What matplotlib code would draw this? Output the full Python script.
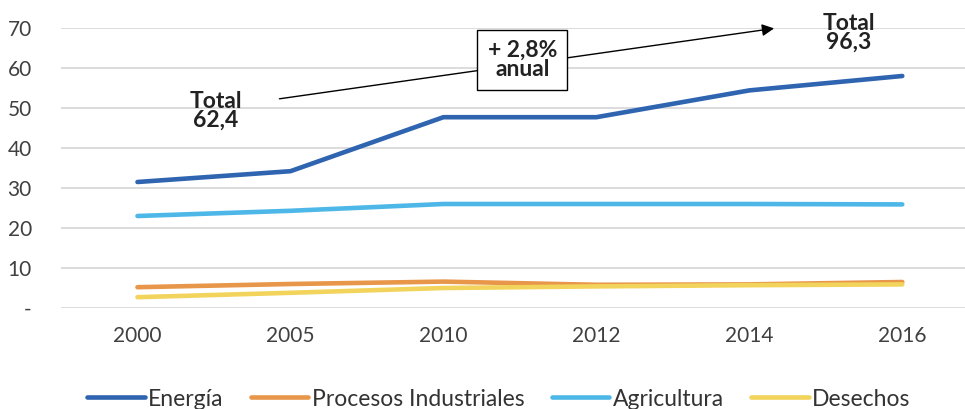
import matplotlib.pyplot as plt

plt.rcParams['font.family'] = ['Lato', 'DejaVu Sans']

# Datos (MtCO2e)
anios = ['2000', '2005', '2010', '2012', '2014', '2016']
energia = [31.5, 34.2, 47.7, 47.7, 54.4, 58.0]
procesos = [5.2, 6.0, 6.6, 5.8, 5.9, 6.5]
agricultura = [23.0, 24.3, 26.0, 26.0, 26.0, 25.9]
desechos = [2.7, 3.8, 5.0, 5.4, 5.7, 5.9]

series = [
    ('Energía', energia, '#2E64B0'),
    ('Procesos Industriales', procesos, '#E8964A'),
    ('Agricultura', agricultura, '#4DB8E8'),
    ('Desechos', desechos, '#F2D45C'),
]

fig = plt.figure(figsize=(9.65, 4.09), dpi=100)
ax = fig.add_axes([61 / 965, 1 - 308 / 409, (965 - 61) / 965, 280 / 409])

x = range(len(anios))
for nombre, valores, color in series:
    ax.plot(x, valores, color=color, lw=3.3, label=nombre, solid_capstyle='round')

ax.set_xlim(-0.5, 5.41)
ax.set_ylim(0, 70)
ax.set_xticks(list(x))
ax.set_xticklabels(anios)
ax.set_yticks(range(0, 80, 10))
ax.set_yticklabels(['-'] + [str(v) for v in range(10, 80, 10)])
ax.tick_params(length=0, labelsize=15, labelcolor='#404040')
ax.tick_params(axis='x', pad=13)
ax.tick_params(axis='y', pad=21)
ax.grid(axis='y', color='#D9D9D9', lw=1.3)
ax.set_axisbelow(True)
for s in ax.spines.values():
    s.set_visible(False)

# Flecha de crecimiento
ax.annotate('', xy=(4.18, 70), xytext=(0.91, 52.2), annotation_clip=False,
            arrowprops=dict(arrowstyle='-|>', color='black', lw=1, mutation_scale=18))
ax.text(2.516, 62, '+ 2,8%\nanual', ha='center', va='center', fontsize=16.5, fontweight='bold',
        color='#222222', linespacing=0.9, clip_on=False,
        bbox=dict(boxstyle='square,pad=0.45', fc='white', ec='black', lw=1))
ax.text(0.51, 49.3, 'Total\n62,4', ha='center', va='center', fontsize=16.5, fontweight='bold',
        color='#222222', linespacing=0.9)
ax.text(4.65, 68.8, 'Total\n96,3', ha='center', va='center', fontsize=16.5, fontweight='bold',
        color='#222222', linespacing=0.9, clip_on=False)

fig.legend(loc='center', bbox_to_anchor=(0.517, 1 - 399 / 409), ncol=4, frameon=False,
           fontsize=16.5, handlelength=2.5, handletextpad=0.15, columnspacing=1.2,
           labelcolor='#333333')

fig.savefig('out.png', dpi=100)
